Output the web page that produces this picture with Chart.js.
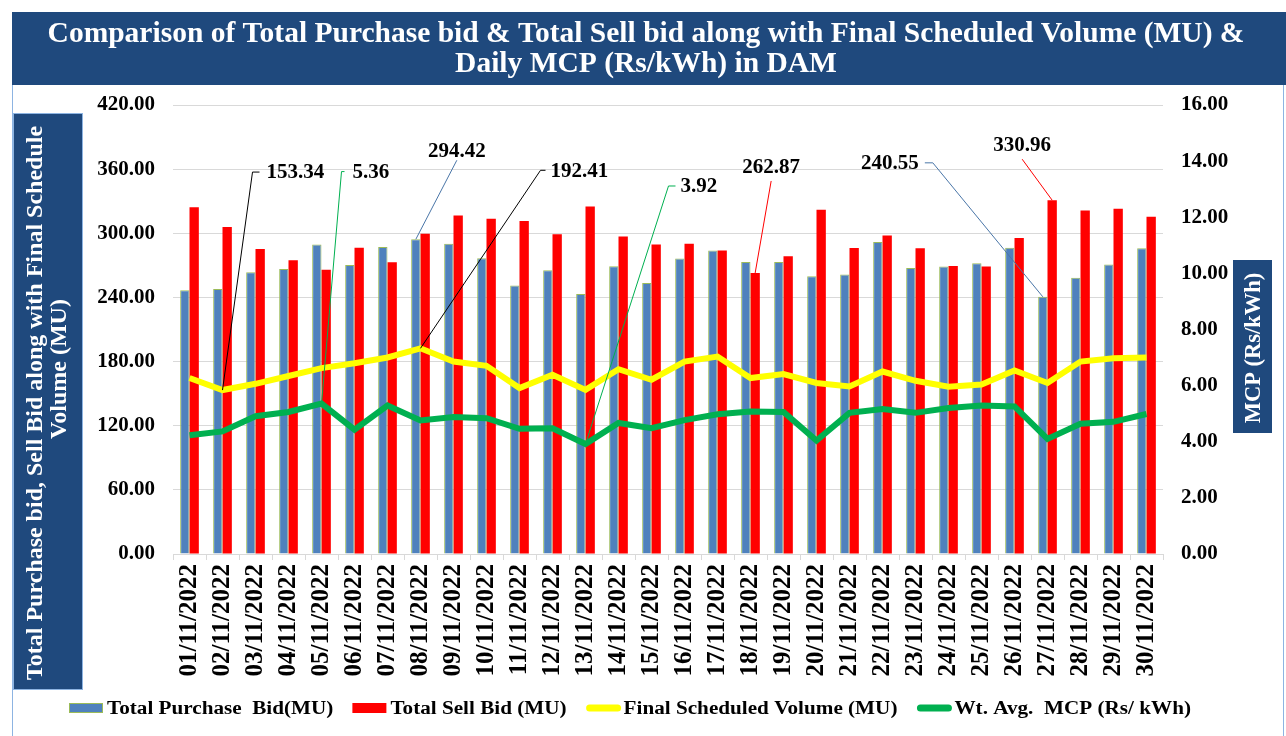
<!DOCTYPE html>
<html>
<head>
<meta charset="utf-8">
<script src="https://cdn.jsdelivr.net/npm/chart.js@4.4.0/dist/chart.umd.min.js"></script>
<style>
  html, body { margin: 0; padding: 0; background: #fff; }
  #wrap { position: relative; width: 1286px; height: 736px; }
</style>
</head>
<body>
<div id="wrap"><canvas id="chart" width="1286" height="736"></canvas></div>
<script>
const days = ['01/11/2022','02/11/2022','03/11/2022','04/11/2022','05/11/2022','06/11/2022','07/11/2022','08/11/2022','09/11/2022','10/11/2022',
              '11/11/2022','12/11/2022','13/11/2022','14/11/2022','15/11/2022','16/11/2022','17/11/2022','18/11/2022','19/11/2022','20/11/2022',
              '21/11/2022','22/11/2022','23/11/2022','24/11/2022','25/11/2022','26/11/2022','27/11/2022','28/11/2022','29/11/2022','30/11/2022'];
const purchaseBid = [246.8, 248.0, 263.6, 266.7, 289.6, 270.4, 287.1, 294.42, 290.3, 276.6,
                     251.1, 265.4, 243.1, 269.1, 253.6, 276.3, 284.0, 273.2, 273.2, 259.8,
                     261.4, 291.8, 267.5, 268.9, 271.9, 286.5, 240.55, 258.3, 270.7, 285.9];
const sellBid = [324.4, 305.8, 285.3, 274.7, 266.0, 286.5, 272.9, 299.6, 316.6, 313.5,
                 311.4, 299.0, 325.0, 297.1, 289.6, 290.3, 284.0, 262.87, 278.5, 321.9,
                 286.2, 298.0, 286.0, 269.4, 268.9, 295.5, 330.96, 321.3, 322.9, 315.4];
const scheduledVolume = [164.6, 153.34, 159.2, 166.5, 173.9, 178.5, 183.8, 192.41, 180.0, 176.0,
                         155.2, 167.6, 153.5, 172.9, 163.0, 180.0, 184.7, 164.6, 168.3, 160.0,
                         156.8, 170.7, 162.0, 156.5, 158.5, 171.7, 160.0, 180.0, 183.2, 183.8];
const mcp = [4.23, 4.37, 4.91, 5.06, 5.36, 4.43, 5.29, 4.76, 4.88, 4.84,
             4.46, 4.48, 3.92, 4.67, 4.48, 4.77, 4.98, 5.08, 5.06, 4.04,
             5.03, 5.17, 5.03, 5.20, 5.29, 5.26, 4.10, 4.64, 4.71, 4.99];
const volumeTicks = [0, 60, 120, 180, 240, 300, 360, 420];
const mcpTicks = [0, 2, 4, 6, 8, 10, 12, 14, 16];

const titleLines = ['Comparison of Total Purchase bid & Total Sell bid along with Final Scheduled Volume (MU) &',
                    'Daily MCP (Rs/kWh) in DAM'];
const leftTitle = ['Total Purchase bid, Sell Bid along with Final Schedule', 'Volume (MU)'];
const rightTitle = 'MCP (Rs/kWh)';

// leader-line labels: which point, where the elbow sits relative to it
const callouts = [
    { ds: 2, idx: 1,  color: '#000000', dx: 30,   dy: -218, hook: 7,  gap: 7, align: 'left' },
    { ds: 3, idx: 4,  color: '#00B050', dx: 20,   dy: -232, hook: 3,  gap: 8, align: 'left' },
    { ds: 0, idx: 7,  color: '#4A76A8', dx: 41,   dy: -79,  hook: 0,  gap: 1, align: 'top' },
    { ds: 2, idx: 7,  color: '#000000', dx: 120,  dy: -178, hook: 5,  gap: 5, align: 'left' },
    { ds: 3, idx: 12, color: '#00B050', dx: 83,   dy: -258, hook: 7,  gap: 5, align: 'left' },
    { ds: 1, idx: 17, color: '#FF0000', dx: 16,   dy: -92,  hook: 0,  gap: 6, align: 'top' },
    { ds: 0, idx: 26, color: '#4A76A8', dx: -110, dy: -134, hook: -8, gap: 6, align: 'right' },
    { ds: 1, idx: 26, color: '#FF0000', dx: -30,  dy: -41,  hook: 0,  gap: 6, align: 'top' }
];

const serif = "'Liberation Serif', 'Times New Roman', serif";
const navy = '#1F497D';

const decor = {
    id: 'decor',
    beforeDraw(chart) {
        const c = chart.ctx;
        c.save();
        c.fillStyle = '#fff';
        c.fillRect(0, 0, chart.width, chart.height);
        // outer frame
        c.strokeStyle = '#8DB4E2';
        c.lineWidth = 1;
        c.strokeRect(12.5, 12.5, 1271, 740);
        // title banner
        c.fillStyle = navy;
        c.fillRect(12, 12, 1274, 73);
        c.fillStyle = '#fff';
        c.font = 'bold 29.5px ' + serif;
        c.textAlign = 'center';
        c.textBaseline = 'middle';
        c.fillText(titleLines[0], 646, 34);
        c.fillText(titleLines[1], 646, 64);
        // left axis title box
        c.fillStyle = navy;
        c.fillRect(13, 113, 70, 577);
        c.strokeStyle = '#8DB4E2';
        c.strokeRect(13.5, 113.5, 69, 576);
        c.save();
        c.translate(48, 0);
        c.rotate(-Math.PI / 2);
        c.fillStyle = '#fff';
        c.font = 'bold 24px ' + serif;
        c.fillText(leftTitle[0], -403, -12);
        c.fillText(leftTitle[1], -369, 12);
        c.restore();
        // right axis title box
        c.fillStyle = navy;
        c.fillRect(1233, 260, 39, 173);
        c.save();
        c.translate(1253, 348);
        c.rotate(-Math.PI / 2);
        c.fillStyle = '#fff';
        c.font = 'bold 22.5px ' + serif;
        c.fillText(rightTitle, 0, 1);
        c.restore();
        c.restore();
    },
    afterDatasetsDraw(chart) {
        const c = chart.ctx;
        c.save();
        c.font = 'bold 21px ' + serif;
        callouts.forEach(co => {
            const el = chart.getDatasetMeta(co.ds).data[co.idx];
            const val = chart.data.datasets[co.ds].data[co.idx];
            const ex = el.x + co.dx, ey = el.y + co.dy;
            c.strokeStyle = co.color;
            c.lineWidth = 1;
            c.beginPath();
            c.moveTo(el.x, el.y);
            c.lineTo(ex, ey);
            if (co.hook) c.lineTo(ex + co.hook, ey);
            c.stroke();
            c.fillStyle = '#000';
            if (co.align === 'top') {
                c.textAlign = 'center';
                c.textBaseline = 'bottom';
                c.fillText(val.toFixed(2), ex, ey - co.gap + 3);
            } else if (co.align === 'left') {
                c.textAlign = 'left';
                c.textBaseline = 'middle';
                c.fillText(val.toFixed(2), ex + co.hook + co.gap, ey + 1);
            } else {
                c.textAlign = 'right';
                c.textBaseline = 'middle';
                c.fillText(val.toFixed(2), ex + co.hook - co.gap, ey + 1);
            }
        });
        c.restore();
    },
    afterDraw(chart) {
        // legend along the bottom (text is a little wide in the original)
        const c = chart.ctx;
        c.save();
        c.font = 'bold 18px ' + serif;
        c.textBaseline = 'middle';
        c.textAlign = 'left';
        const stretch = 1.176;
        const sw = 34, gapText = 4, gapItem = 19;
        let x = 69;
        const y = 708;
        chart.data.datasets.forEach(d => {
            if (d.type === 'bar') {
                c.fillStyle = d.backgroundColor;
                c.fillRect(x, y - 5, sw, 10);
                if (d.borderWidth) {
                    c.strokeStyle = d.borderColor;
                    c.lineWidth = 1;
                    c.strokeRect(x + 0.5, y - 4.5, sw - 1, 9);
                }
            } else {
                c.strokeStyle = d.borderColor;
                c.lineWidth = 7;
                c.lineCap = 'round';
                c.beginPath();
                c.moveTo(x + 4, y);
                c.lineTo(x + sw - 2, y);
                c.stroke();
            }
            const tx = x + sw + gapText;
            const w = c.measureText(d.label).width * stretch;
            c.save();
            c.translate(tx, y + 1);
            c.scale(stretch, 1);
            c.fillStyle = '#000';
            c.fillText(d.label, 0, 0);
            c.restore();
            x = tx + w + gapItem;
        });
        c.restore();
    }
};

const tickFont = { family: serif, weight: 'bold', size: 21 };

new Chart(document.getElementById('chart').getContext('2d'), {
    type: 'bar',
    data: {
        labels: days,
        datasets: [
            { type: 'bar', label: 'Total Purchase  Bid(MU)', data: purchaseBid, backgroundColor: '#4F81BD',
              borderColor: '#9BBB59', borderWidth: 1, yAxisID: 'y', order: 2,
              categoryPercentage: 0.566, barPercentage: 1 },
            { type: 'bar', label: 'Total Sell Bid (MU)', data: sellBid, backgroundColor: '#FF0000',
              borderWidth: 0, yAxisID: 'y', order: 2, categoryPercentage: 0.566, barPercentage: 1 },
            { type: 'line', label: 'Final Scheduled Volume (MU)', data: scheduledVolume, borderColor: '#FFFF00',
              backgroundColor: '#FFFF00', borderWidth: 6, pointRadius: 0, tension: 0, yAxisID: 'y', order: 1 },
            { type: 'line', label: 'Wt. Avg.  MCP (Rs/ kWh)', data: mcp, borderColor: '#00B050',
              backgroundColor: '#00B050', borderWidth: 6, pointRadius: 0, tension: 0, yAxisID: 'y1', order: 0 }
        ]
    },
    options: {
        responsive: false,
        animation: false,
        devicePixelRatio: 1,
        layout: { padding: { top: 105, left: 93, right: 43, bottom: 52 } },
        plugins: { legend: { display: false }, tooltip: { enabled: false }, title: { display: false } },
        scales: {
            x: {
                grid: { drawOnChartArea: false, drawTicks: true, tickLength: 6, color: '#d9d9d9', offset: true },
                border: { color: '#d9d9d9' },
                ticks: { font: { family: serif, weight: 'bold', size: 25 }, color: '#000',
                         minRotation: 90, maxRotation: 90, padding: 4, autoSkip: false },
                afterFit(s) { s.height = 130; }
            },
            y: {
                position: 'left', min: 0, max: 420,
                grid: { color: '#d9d9d9', drawTicks: false },
                border: { display: false },
                ticks: { font: tickFont, color: '#000', padding: 18, callback: v => v.toFixed(2) },
                afterBuildTicks(s) { s.ticks = volumeTicks.map(v => ({ value: v })); },
                afterFit(s) { s.width = 80; }
            },
            y1: {
                position: 'right', min: 0, max: 16,
                grid: { display: false, drawTicks: false },
                border: { display: false },
                ticks: { font: tickFont, color: '#000', padding: 18, callback: v => v.toFixed(2) },
                afterBuildTicks(s) { s.ticks = mcpTicks.map(v => ({ value: v })); },
                afterFit(s) { s.width = 80; }
            }
        }
    },
    plugins: [decor]
});
</script>
</body>
</html>
